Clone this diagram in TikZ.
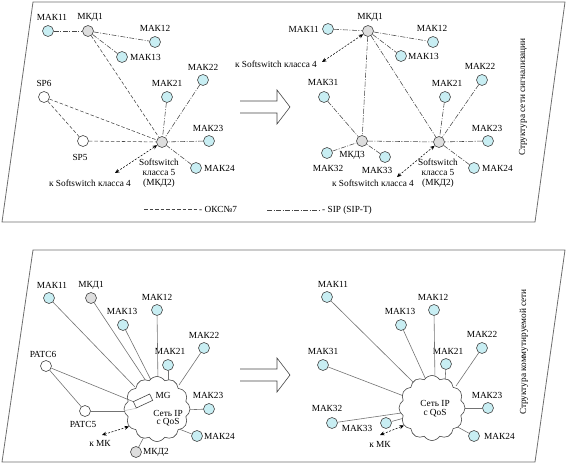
\documentclass[tikz,border=0pt]{standalone}
\usepackage{fontspec}
\setmainfont{Liberation Serif}
\usetikzlibrary{shapes.symbols,arrows.meta,calc}
\definecolor{makc}{RGB}{200,238,243}
\definecolor{mkdc}{RGB}{222,222,222}
\definecolor{lnc}{RGB}{70,70,70}
\definecolor{solc}{RGB}{115,115,115}
\definecolor{framec}{RGB}{110,110,110}
\begin{document}
\begin{tikzpicture}[x=1pt,y=-1pt,
  every node/.style={font=\fontsize{9.3}{10}\selectfont, inner sep=0pt},
  nd/.style={circle,draw=lnc,line width=0.6pt,minimum size=11pt,inner sep=0pt},
  makn/.style={nd,fill=makc},
  mkdn/.style={nd,fill=mkdc},
  spn/.style={nd,fill=white},
  sip/.style={draw=lnc,line width=0.55pt,dash pattern=on 5pt off 1.5pt on 1pt off 1.5pt},
  oks/.style={draw=lnc,line width=0.55pt,dash pattern=on 3.5pt off 2pt},
  dbl/.style={draw=black,line width=0.55pt,dash pattern=on 2pt off 1.5pt,{Stealth[length=4.5pt,width=4pt]}-{Stealth[length=4.5pt,width=4pt]}},
  sol/.style={draw=solc,line width=0.6pt},
  frm/.style={draw=framec,line width=0.8pt},
  bigarrow/.style={draw=lnc,line width=0.6pt,fill=white},
  cl/.style={cloud,cloud puffs=12,cloud puff arc=115,aspect=1,draw=lnc,line width=0.6pt,fill=white,minimum width=66pt,minimum height=65pt}
]
\useasboundingbox (0,0) rectangle (567,473);

% ---------- frames ----------
\draw[frm] (33,2) -- (565,2) -- (535,222) -- (2,222) -- cycle;
\draw[frm] (33,250) -- (565,250) -- (535,462) -- (2,462) -- cycle;

% ---------- big arrows ----------
\draw[bigarrow] (240,101) -- (277,101) -- (277,90) -- (290,107) -- (277,124) -- (277,113) -- (240,113);
\draw[bigarrow] (240,369) -- (277,369) -- (277,358) -- (290,375) -- (277,392) -- (277,381) -- (240,381);

% ---------- vertical titles ----------
\node[rotate=90] (title1) at (523,97) {Структура сети сигнализации};
\node[rotate=90] (title2) at (524,352) {Структура коммутируемой сети};

% ---------- legend ----------
\coordinate (lo1) at (144,209); \coordinate (lo2) at (197,209);
\draw[oks] (lo1) -- (lo2);
\node[anchor=west] (legoks) at (199,209) {- ОКС№7};
\coordinate (ls1) at (267,210); \coordinate (ls2) at (320,210);
\draw[sip] (ls1) -- (ls2);
\node[anchor=west] (legsip) at (322,210) {- SIP (SIP-T)};

% ================= TOP LEFT =================
\node[makn] (a11) at (48,31) {};
\node[mkdn] (a1) at (88,31) {};
\node[makn] (a12) at (155,42) {};
\node[makn] (a13) at (122,57) {};
\node[spn] (asp6) at (44,97) {};
\node[makn] (a21) at (167,97) {};
\node[makn] (a22) at (203,80) {};
\node[makn] (a23) at (209,141) {};
\node[mkdn] (a2) at (162,142) {};
\node[spn] (asp5) at (83,141) {};
\node[makn] (a24) at (196,168) {};

\node (la11) at (52,17) {МАК11};
\node (la1) at (90,17) {МКД1};
\node (la12) at (155,28) {МАК12};
\node[anchor=west] (la13) at (130,57) {МАК13};
\node (lasp6) at (44,83) {SP6};
\node (la21) at (167,83) {МАК21};
\node (la22) at (203,67) {МАК22};
\node (la23) at (208,128) {МАК23};
\node (lasp5) at (80,157) {SP5};
\node[anchor=west] (la24) at (204,168) {МАК24};
\node[align=center] (la2) at (159,173) {Softswitch\\класса 5\\(МКД2)};
\node (lak4) at (90,183) {к Softswitch класса 4};

\draw[sip] (a11) -- (a1);
\draw[sip] (a1) -- (a12);
\draw[sip] (a1) -- (a13);
\draw[oks] (a1) -- (a2);
\draw[oks] (asp6) -- (a2);
\draw[oks] (asp6) -- (asp5);
\draw[oks] (asp5) -- (a2);
\draw[sip] (a21) -- (a2);
\draw[sip] (a22) -- (a2);
\draw[sip] (a23) -- (a2);
\draw[sip] (a24) -- (a2);
\coordinate (ak4) at (115,173);
\draw[dbl] (ak4) -- (a2);

% ================= TOP RIGHT =================
\node[makn] (b11) at (328,29) {};
\node[mkdn] (b1) at (368,31) {};
\node[makn] (b12) at (433,42) {};
\node[makn] (b13) at (401,56) {};
\node[makn] (b22) at (482,80) {};
\node[makn] (b21) at (445,97) {};
\node[makn] (b31) at (324,97) {};
\node[makn] (b23) at (488,141) {};
\node[mkdn] (b2) at (439,142) {};
\node[mkdn] (b3) at (362,141) {};
\node[makn] (b32) at (327,153) {};
\node[makn] (b33) at (385,157) {};
\node[makn] (b24) at (474,168) {};

\node (lb1) at (370,17) {МКД1};
\node[anchor=east] (lb11) at (319,29) {МАК11};
\node (lb12) at (432,28) {МАК12};
\node[anchor=west] (lb13) at (408,56) {МАК13};
\node (lb22) at (480,66) {МАК22};
\node (lb21) at (447,83) {МАК21};
\node (lb31) at (323,82) {МАК31};
\node (lb23) at (487,128) {МАК23};
\node (lb3) at (352,155) {МКД3};
\node (lb32) at (328,168) {МАК32};
\node (lb33) at (377,170) {МАК33};
\node[anchor=west] (lb24) at (482,168) {МАК24};
\node[align=center] (lb2) at (438,173) {Softswitch\\класса 5\\(МКД2)};
\node (lbk4a) at (276,64) {к Softswitch класса 4};
\node (lbk4b) at (373,183) {к Softswitch класса 4};

\draw[sip] (b11) -- (b1);
\draw[sip] (b1) -- (b12);
\draw[sip] (b1) -- (b13);
\draw[sip] (b1) -- (b3);
\draw[sip] (b1) -- (b2);
\draw[sip] (b3) -- (b2);
\draw[sip] (b31) -- (b3);
\draw[sip] (b32) -- (b3);
\draw[sip] (b33) -- (b3);
\draw[sip] (b21) -- (b2);
\draw[sip] (b22) -- (b2);
\draw[sip] (b23) -- (b2);
\draw[sip] (b24) -- (b2);
\coordinate (bk4a) at (322,62);
\coordinate (bk4b) at (397,177);
\draw[dbl] (bk4a) -- (b1);
\draw[dbl] (bk4b) -- (b2);

% ================= BOTTOM LEFT =================
\node[makn] (c11) at (49,298) {};
\node[mkdn] (c1) at (91,298) {};
\node[makn] (c12) at (157,310) {};
\node[makn] (c13) at (123,325) {};
\node[makn] (c22) at (204,348) {};
\node[makn] (c21) at (168,365) {};
\node[spn] (cp6) at (46,366) {};
\node[spn] (cp5) at (85,411) {};
\node[makn] (c23) at (209,409) {};
\node[makn] (c24) at (197,436) {};
\node[mkdn] (c2) at (136,452) {};

\node (lc11) at (52,285) {МАК11};
\node (lc1) at (91,285) {МКД1};
\node (lc12) at (157,297) {МАК12};
\node (lc13) at (122,311) {МАК13};
\node (lc22) at (204,335) {МАК22};
\node (lc21) at (170,351) {МАК21};
\node (lcp6) at (43,354) {РАТС6};
\node (lcp5) at (83,424) {РАТС5};
\node (lc23) at (208,395) {МАК23};
\node[anchor=west] (lc24) at (204,436) {МАК24};
\node[anchor=west] (lc2) at (143,452) {МКД2};

\coordinate (clc) at (157,409);
\draw[sol] (c11) -- ($(clc)+(-22,-22)$);
\draw[sol] (c1) -- ($(clc)+(-9,-25)$);
\draw[sol] (c13) -- ($(clc)+(-4,-25)$);
\draw[sol] (c12) -- ($(clc)+(1,-25)$);
\draw[sol] (c21) -- ($(clc)+(11,-25)$);
\draw[sol] (c22) -- ($(clc)+(22,-24)$);
\draw[sol] (c23) -- ($(clc)+(25,1)$);
\draw[sol] (c24) -- ($(clc)+(22,20)$);
\draw[sol] (c2) -- ($(clc)+(-12,26)$);
\draw[sol] (cp5) -- ($(clc)+(-25,2)$);
\draw[sol] (cp6) -- (cp5);

\node[cl] (cloudL) at (clc) {};
\node[draw=lnc,line width=0.6pt,fill=white,rotate=25,minimum width=18pt,minimum height=7pt] (mg) at (143,401) {};
\draw[sol] (cp6) -- (mg.north west);
\draw[draw=gray!45,line width=0.6pt] (cloudL.183) -- (mg.south west);
\node (lmg) at (163,395) {MG};
\node (lnet1) at (168,413) {Сеть IP};
\node (lnet2) at (168,422) {с QoS};
\node (lmk1) at (100,443) {к МК};
\coordinate (cmk) at (102,435);
\draw[dbl] (cmk) -- (cloudL.212);

% ================= BOTTOM RIGHT =================
\node[makn] (d11) at (327,297) {};
\node[makn] (d12) at (434,310) {};
\node[makn] (d13) at (401,325) {};
\node[makn] (d22) at (482,348) {};
\node[makn] (d21) at (446,364) {};
\node[makn] (d31) at (323,365) {};
\node[makn] (d23) at (488,408) {};
\node[makn] (d32) at (332,423) {};
\node[makn] (d33) at (386,423) {};
\node[makn] (d24) at (474,436) {};

\node (ld11) at (333,284) {МАК11};
\node (ld12) at (433,297) {МАК12};
\node (ld13) at (400,311) {МАК13};
\node (ld22) at (482,334) {МАК22};
\node (ld21) at (448,351) {МАК21};
\node (ld31) at (323,351) {МАК31};
\node (ld23) at (487,395) {МАК23};
\node (ld32) at (327,408) {МАК32};
\node (ld33) at (357,428) {МАК33};
\node[anchor=west] (ld24) at (484,436) {МАК24};

\coordinate (crc) at (432,408);
\draw[sol] (d11) -- ($(crc)+(-18,-25)$);
\draw[sol] (d13) -- ($(crc)+(-5,-26)$);
\draw[sol] (d12) -- ($(crc)+(3,-26)$);
\draw[sol] (d21) -- ($(crc)+(13,-25)$);
\draw[sol] (d22) -- ($(crc)+(24,-22)$);
\draw[sol] (d31) -- ($(crc)+(-23,-10)$);
\draw[sol] (d32) -- ($(crc)+(-24,4)$);
\draw[sol] (d33) -- ($(crc)+(-24,9)$);
\draw[sol] (d23) -- ($(crc)+(25,0)$);
\draw[sol] (d24) -- ($(crc)+(22,17)$);

\node[cl] (cloudR) at (crc) {};
\node (lnet3) at (435,403) {Сеть IP};
\node (lnet4) at (435,413) {с QoS};
\node (lmk2) at (380,444) {к МК};
\coordinate (dmk) at (380,435);
\draw[dbl] (dmk) -- (cloudR.212);
\end{tikzpicture}
\end{document}
